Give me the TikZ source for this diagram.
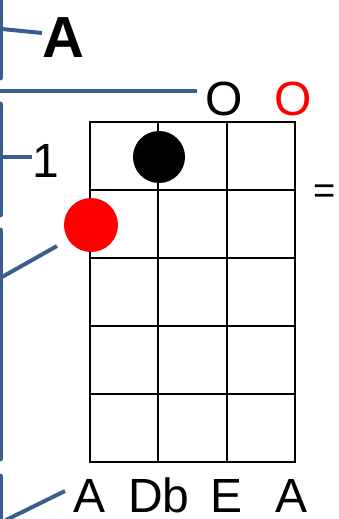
\documentclass[tikz,border=0pt]{standalone}
\usepackage{fontspec}
\setmainfont{Liberation Sans}
\definecolor{bracketblue}{HTML}{3A5F8F}
\begin{document}
\begin{tikzpicture}[x=1pt,y=-1pt,
  brk/.style={draw=bracketblue,line width=5pt,line cap=round},
  lead/.style={draw=bracketblue,line width=4pt},
  grd/.style={draw=black,line width=1.5pt},
  lbl/.style={inner sep=0pt,anchor=base,text depth=0pt,font=\fontsize{48}{56}\selectfont}]
\useasboundingbox (0,0) rectangle (339,519);
% grid
\foreach \x in {158,227} \draw[grd] (\x,122) -- (\x,462);
\foreach \y in {190,258,326,394} \draw[grd] (90,\y) -- (295,\y);
\draw[draw=black,line width=2pt] (90,122) rectangle (295,462);
% dots
\node[circle,fill=black,minimum size=52pt,inner sep=0pt] (d1) at (159,157) {};
\node[circle,fill=red,minimum size=54pt,inner sep=0pt] (d2) at (91,225) {};
% brackets
\draw[brk] (0,-10) -- (0,78);
\draw[brk] (0,104) -- (0,215);
\draw[brk] (0,230) -- (0,459);
\draw[brk] (0,476) -- (0,530);
\coordinate (b1) at (2,29);
\coordinate (b2) at (2,157);
\coordinate (b3) at (2,277);
\coordinate (b4) at (6,520);
\coordinate (h0) at (-5,91);
% labels
\node[lbl,font=\fontsize{58}{64}\selectfont\bfseries] (chord) at (63,57) {A};
\node[lbl] (fret) at (46,177) {1};
\node[lbl] (o1) at (224,115) {O};
\node[lbl,text=red] (o2) at (293,115) {O};
\node[lbl,font=\fontsize{38}{44}\selectfont] (eq) at (325,203) {=};
\node[lbl] (n1) at (90,512) {A};
\node[lbl] (n2) at (159,512) {Db};
\node[lbl] (n3) at (227,512) {E};
\node[lbl] (n4) at (292,512) {A};
\coordinate (h1) at (197,91);
% leaders
\draw[lead] (b1) -- (42,33);
\draw[lead] (h0) -- (h1);
\draw[lead] (b2) -- (32,157);
\draw[lead] (b3) -- (57,246);
\draw[lead] (b4) -- (65,491);
\end{tikzpicture}
\end{document}
